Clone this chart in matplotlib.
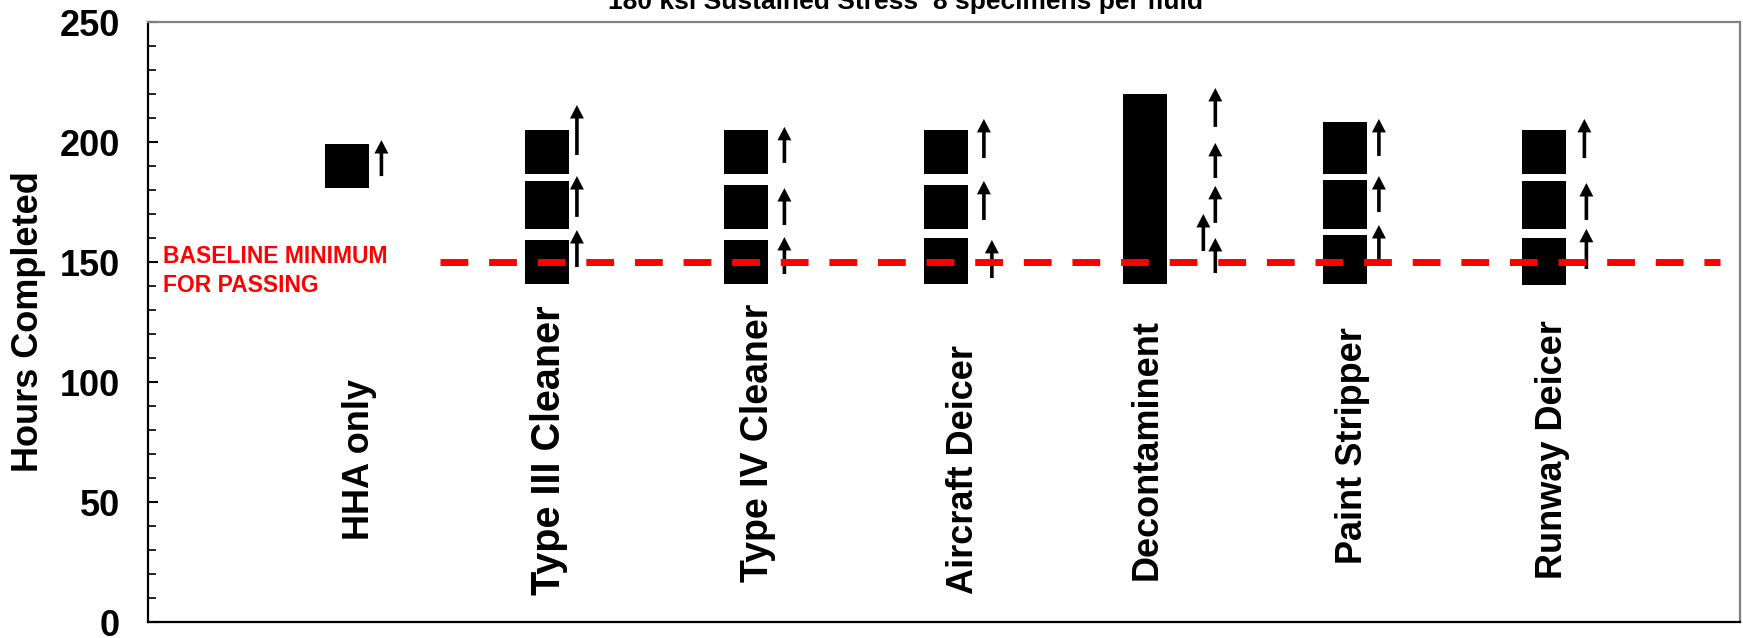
import matplotlib
matplotlib.use("Agg")
import matplotlib.pyplot as plt
from matplotlib.ticker import MultipleLocator

plt.rcParams["font.family"] = ["Liberation Sans", "DejaVu Sans"]
plt.rcParams["font.weight"] = "bold"

# fluids along the x axis (drawn at positions 1..7)
fluids = ["HHA only", "Type III Cleaner", "Type IV Cleaner", "Aircraft Deicer",
          "Decontaminent", "Paint Stripper", "Runway Deicer"]

# hours completed for the visible specimens of each fluid
hours = [
    [190],
    [196, 174.5, 173, 150],
    [196, 173, 150],
    [196, 173, 151, 150],
    [150, 165, 180, 195, 211],
    [199, 196, 175, 173, 152, 150],
    [196, 174.5, 173, 151, 149.5],
]

# run-out arrows: x position, start and end (hours)
arrow_x = [1.17,
           2.15, 2.15, 2.15,
           3.19, 3.19, 3.19,
           4.19, 4.19, 4.23,
           5.35, 5.35, 5.35, 5.35, 5.29,
           6.17, 6.17, 6.17,
           7.20, 7.21, 7.21]
arrow_y0 = [185.8,
            194.6, 168.8, 147.9,
            191.3, 165.4, 145.0,
            193.3, 167.5, 143.3,
            206.3, 185.0, 166.3, 145.4, 154.6,
            194.2, 170.8, 149.2,
            193.3, 167.5, 147.1]
arrow_y1 = [200.8,
            215.4, 185.8, 163.3,
            206.3, 180.8, 160.4,
            209.6, 183.8, 159.2,
            222.5, 199.6, 181.7, 160.0, 170.0,
            209.6, 185.8, 165.4,
            209.6, 182.9, 163.8]

# where each rotated fluid name sits
label_x = [1.06, 2.01, 3.06, 4.09, 5.01, 6.04, 7.04]
label_y = [67.5, 71.7, 74.5, 63.5, 72.0, 73.6, 71.8]
label_size = [26, 28.5, 27, 26, 26, 26, 26]

baseline = 150
title = "180 ksi Sustained Stress  8 specimens per fluid"

fig = plt.figure(figsize=(17.43, 6.38), dpi=100)
ax = fig.add_axes([148 / 1743, 16 / 638, 1592 / 1743, 600 / 638])

for i, vals in enumerate(hours):
    ax.plot([i + 1] * len(vals), vals, "s", color="black", ms=31.7, mew=0)

for x, y0, y1 in zip(arrow_x, arrow_y0, arrow_y1):
    ax.arrow(x, y0, 0, y1 - y0, width=0.018, head_width=0.07, head_length=5.6,
             length_includes_head=True, fc="black", ec="black", lw=0)

ax.hlines(baseline, 1.466, 7.88, colors="red", lw=5, linestyles=(0, (4, 3)))
ax.text(0.073, 157, "BASELINE MINIMUM\nFOR PASSING", color="red", fontsize=16.5,
        fontweight="bold", ha="left", va="top", linespacing=1.35)

for name, x, y, fs in zip(fluids, label_x, label_y, label_size):
    ax.text(x, y, name, rotation=90, ha="center", va="center", fontsize=fs,
            fontweight="bold")

ax.set_xlim(0, 7.98)
ax.set_ylim(0, 250)
ax.set_xticks([])
ax.set_yticks(range(0, 251, 50))
ax.yaxis.set_minor_locator(MultipleLocator(10))
ax.tick_params(axis="y", which="major", direction="in", length=7, width=1.5,
               pad=20, labelsize=26)
ax.tick_params(axis="y", which="minor", direction="in", length=5.5, width=1.2)

ax.set_ylabel("Hours Completed", fontsize=26, fontweight="bold", va="center")
ax.yaxis.set_label_coords(-119 / 1592, 0.5)

for side in ["left", "bottom"]:
    ax.spines[side].set_color("black")
    ax.spines[side].set_linewidth(1.6)
for side in ["top", "right"]:
    ax.spines[side].set_color("#808080")
    ax.spines[side].set_linewidth(1.6)

fig.text(905 / 1743, 1 - 9 / 638, title, ha="center", va="baseline",
         fontsize=19, fontweight="bold")

fig.savefig("out.png", dpi=100)
